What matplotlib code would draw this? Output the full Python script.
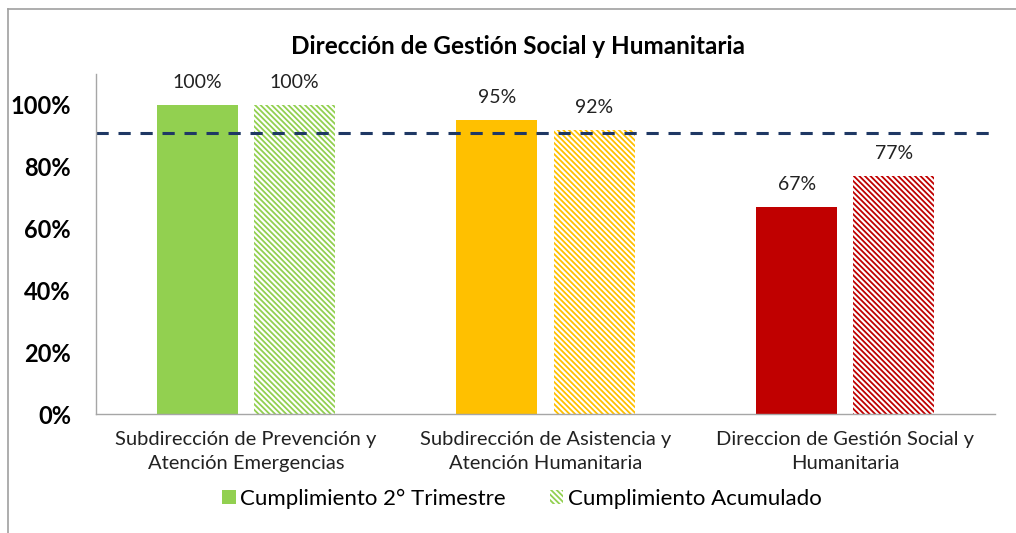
import matplotlib
matplotlib.use("Agg")
import matplotlib.pyplot as plt
import matplotlib.patches as mpatches
from matplotlib.lines import Line2D
import numpy as np

plt.rcParams['font.family'] = ['Lato', 'DejaVu Sans']
plt.rcParams['hatch.linewidth'] = 1.3

categories = ["Subdirección de Prevención y\nAtención Emergencias",
              "Subdirección de Asistencia y\nAtención Humanitaria",
              "Direccion de Gestión Social y\nHumanitaria"]
trimestre = [1.00, 0.95, 0.67]
acumulado = [1.00, 0.92, 0.77]
colors = ["#92d050", "#ffc000", "#c00000"]
meta = 0.91
yticks = [0, 0.2, 0.4, 0.6, 0.8, 1.0]
ytick_labels = ["0%", "20%", "40%", "60%", "80%", "100%"]
series_names = ["Cumplimiento 2° Trimestre", "Cumplimiento Acumulado"]
title = "Dirección de Gestión Social y Humanitaria"

HATCH = "\\" * 6

fig = plt.figure(figsize=(10.16, 5.33), dpi=100)
ax = fig.add_axes([96/1016, 1-414/533, (995-96)/1016, (414-74)/533])

x = np.arange(len(categories))
w = 0.27
off = 0.162
ax.bar(x - off, trimestre, width=w, color=colors, linewidth=0)
ax.bar(x + off, acumulado, width=w, facecolor="white", edgecolor=colors,
       hatch=HATCH, linewidth=0)

for xi, v in zip(x - off, trimestre):
    ax.text(xi, v + 0.045, f"{v*100:.0f}%", ha="center", va="bottom",
            fontsize=14, color="#222222")
for xi, v in zip(x + off, acumulado):
    ax.text(xi, v + 0.045, f"{v*100:.0f}%", ha="center", va="bottom",
            fontsize=14, color="#222222")

ax.axhline(meta, color="#1f3864", linewidth=2.2, dashes=(4, 3.2))

ax.set_xlim(-0.5, 2.5)
ax.set_ylim(0, 1.1)
ax.set_yticks(yticks)
ax.set_yticklabels(ytick_labels, fontsize=17, fontweight="bold")
ax.set_xticks(x)
ax.set_xticklabels(categories, fontsize=14.5, color="#222222", linespacing=1.5)
ax.tick_params(axis="both", length=0)
ax.tick_params(axis="y", pad=18)
ax.tick_params(axis="x", pad=12)
for s in ["top", "right"]:
    ax.spines[s].set_visible(False)
for s in ["left", "bottom"]:
    ax.spines[s].set_color("#a6a6a6")
    ax.spines[s].set_linewidth(1)

fig.text(518/1016, 1-46/533, title, ha="center", va="center",
         fontsize=17.5, fontweight="bold")

# chart frame
fig.add_artist(Line2D([8/1016, 8/1016], [0, 1-9/533], transform=fig.transFigure,
                      color="#a0a0a0", linewidth=1.2))
fig.add_artist(Line2D([8/1016, 1], [1-9/533, 1-9/533], transform=fig.transFigure,
                      color="#a0a0a0", linewidth=1.2))

h1 = mpatches.Patch(facecolor=colors[0], linewidth=0)
h2 = mpatches.Patch(facecolor="white", edgecolor=colors[0], hatch=HATCH, linewidth=0)
fig.legend([h1, h2], series_names, loc="center", bbox_to_anchor=(522/1016, 1-499/533),
           ncol=2, frameon=False, fontsize=16, handlelength=0.6, handleheight=0.6,
           handletextpad=0.2, columnspacing=2.0)

fig.savefig("out.png", dpi=100)
